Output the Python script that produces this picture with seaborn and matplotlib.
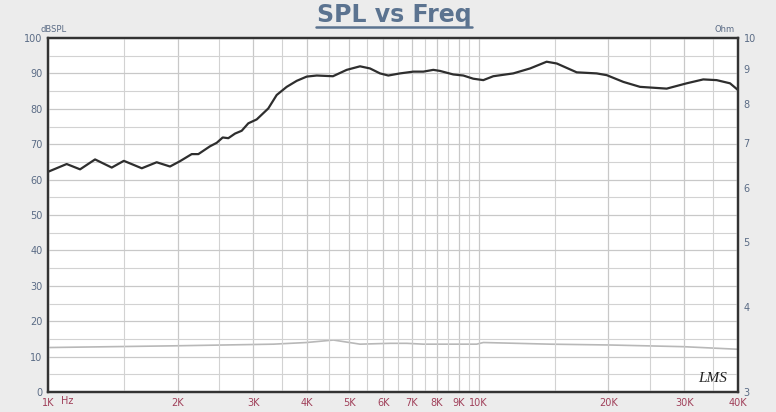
import matplotlib
matplotlib.use("Agg")
import matplotlib.pyplot as plt
from matplotlib.lines import Line2D
from matplotlib.ticker import FixedLocator, NullFormatter, NullLocator
import seaborn as sns
import pandas as pd

# SPL response (Hz, dBSPL)
spl_freq = [1000, 1105, 1187, 1286, 1406, 1500, 1651, 1788, 1920, 2025, 2156, 2234,
            2377, 2465, 2545, 2622, 2718, 2817, 2918, 3052, 3247, 3396, 3583, 3780,
            3988, 4207, 4588, 4938, 5302, 5593, 5900, 6168, 6567, 7050, 7440, 7845,
            8130, 8730, 9210, 9715, 10250, 10810, 12030, 13160, 14380, 15180, 16890,
            18790, 19830, 21670, 23690, 27320, 30400, 33220, 35690, 38330, 40000]
spl_db = [62.2, 64.4, 62.9, 65.7, 63.4, 65.3, 63.2, 64.9, 63.7, 65.2, 67.2, 67.2,
          69.4, 70.4, 71.9, 71.7, 73.0, 73.8, 75.9, 77.0, 80.1, 83.9, 86.2, 87.9,
          89.1, 89.4, 89.2, 91.0, 92.0, 91.4, 90.0, 89.4, 90.0, 90.5, 90.5, 91.0,
          90.7, 89.7, 89.4, 88.5, 88.1, 89.2, 90.0, 91.4, 93.3, 92.8, 90.3,
          90.0, 89.5, 87.6, 86.2, 85.7, 87.2, 88.3, 88.1, 87.2, 85.3]

# impedance (Hz, Ohm)
imp_freq = [1011, 1954, 3336, 3988, 4598, 5302, 6224, 6806, 7437, 8131, 9894,
            10250, 14640, 20180, 29870, 39720]
imp_ohm = [3.49, 3.51, 3.53, 3.55, 3.58, 3.53, 3.54, 3.54, 3.53, 3.53, 3.53,
           3.55, 3.53, 3.52, 3.50, 3.47]

x_major = [1000, 2000, 3000, 4000, 5000, 6000, 7000, 8000, 9000, 10000, 20000, 30000, 40000]
x_labels = ["1K", "2K", "3K", "4K", "5K", "6K", "7K", "8K", "9K", "10K", "20K", "30K", "40K"]
x_minor = [1500, 2500, 3500, 4500, 5500, 6500, 7500, 8500, 9500, 15000, 25000, 35000]
db_ticks = list(range(0, 101, 10))
ohm_ticks = [3, 4, 5, 6, 7, 8, 9, 10]

spl_df = pd.DataFrame({"freq": spl_freq, "db": spl_db})
imp_df = pd.DataFrame({"freq": imp_freq, "ohm": imp_ohm})

sns.set_style("white")
plt.rcParams["font.family"] = ["DejaVu Sans"]

BG = "#ececec"
TICK_BLUE = "#5a6b85"
TICK_RED = "#a0405a"
GRID = "#d2d2d2"

fig = plt.figure(figsize=(7.76, 4.12), dpi=100, facecolor=BG)
ax = fig.add_axes([48 / 776, 1 - 392 / 412, 690 / 776, 354 / 412])
ax.set_facecolor("white")

ax.set_xscale("log")
ax.set_xlim(1000, 40000)
ax.set_ylim(0, 100)

ax.xaxis.set_major_locator(FixedLocator(x_major))
ax.set_xticklabels(x_labels)
ax.xaxis.set_minor_locator(FixedLocator(x_minor))
ax.xaxis.set_minor_formatter(NullFormatter())
ax.set_yticks(db_ticks)
ax.yaxis.set_minor_locator(FixedLocator(list(range(5, 100, 10))))

ax.grid(which="major", color="#c8c8c8", linewidth=0.9)
ax.grid(which="minor", color=GRID, linewidth=0.8)
ax.set_axisbelow(True)
ax.tick_params(which="both", length=0)
ax.tick_params(axis="x", colors=TICK_RED, labelsize=7, pad=4)
ax.tick_params(axis="y", colors=TICK_BLUE, labelsize=7, pad=4)

for side in ["left", "bottom", "right", "top"]:
    ax.spines[side].set_color("#333333")
    ax.spines[side].set_linewidth(1.6)

# impedance on its own log axis at the right
ax2 = ax.twinx()
ax2.set_yscale("log")
ax2.set_ylim(3, 10)
ax2.yaxis.set_major_locator(FixedLocator(ohm_ticks))
ax2.set_yticklabels([str(t) for t in ohm_ticks])
ax2.yaxis.set_minor_locator(NullLocator())
ax2.tick_params(which="both", length=0, colors=TICK_BLUE, labelsize=7, pad=4)
ax2.grid(False)
for side in ["left", "bottom", "right", "top"]:
    ax2.spines[side].set_color("#333333")
    ax2.spines[side].set_linewidth(1.6)

sns.lineplot(data=imp_df, x="freq", y="ohm", ax=ax2, color="#b8b8b8", linewidth=1.2)
sns.lineplot(data=spl_df, x="freq", y="db", ax=ax, color="#2e2e2e", linewidth=1.6)
ax.set_zorder(ax2.get_zorder() + 1)
ax.patch.set_visible(False)
ax2.patch.set_visible(True)
ax2.patch.set_facecolor("white")

ax.set_xlabel("")
ax.set_ylabel("")
ax2.set_xlabel("")
ax2.set_ylabel("")

# labels around the frame
fig.text(67 / 776, 1 - 401 / 412, "Hz", color=TICK_RED, fontsize=7, ha="center", va="center")
fig.text(54 / 776, 1 - 30 / 412, "dBSPL", color=TICK_BLUE, fontsize=6, ha="center", va="center")
fig.text(725 / 776, 1 - 30 / 412, "Ohm", color=TICK_BLUE, fontsize=6, ha="center", va="center")
fig.text(713 / 776, 1 - 378 / 412, "LMS", color="#222222", fontsize=11, style="italic",
         family="Liberation Serif", ha="center", va="center")

# underlined title
fig.text(394 / 776, 1 - 15 / 412, "SPL vs Freq", color="#5b7390", fontsize=17,
         fontweight="bold", ha="center", va="center")
fig.add_artist(Line2D([316 / 776, 472 / 776], [1 - 27 / 412, 1 - 27 / 412],
                      color="#5b7390", linewidth=1.8, transform=fig.transFigure))

fig.savefig("out.png", dpi=100, facecolor=BG)
